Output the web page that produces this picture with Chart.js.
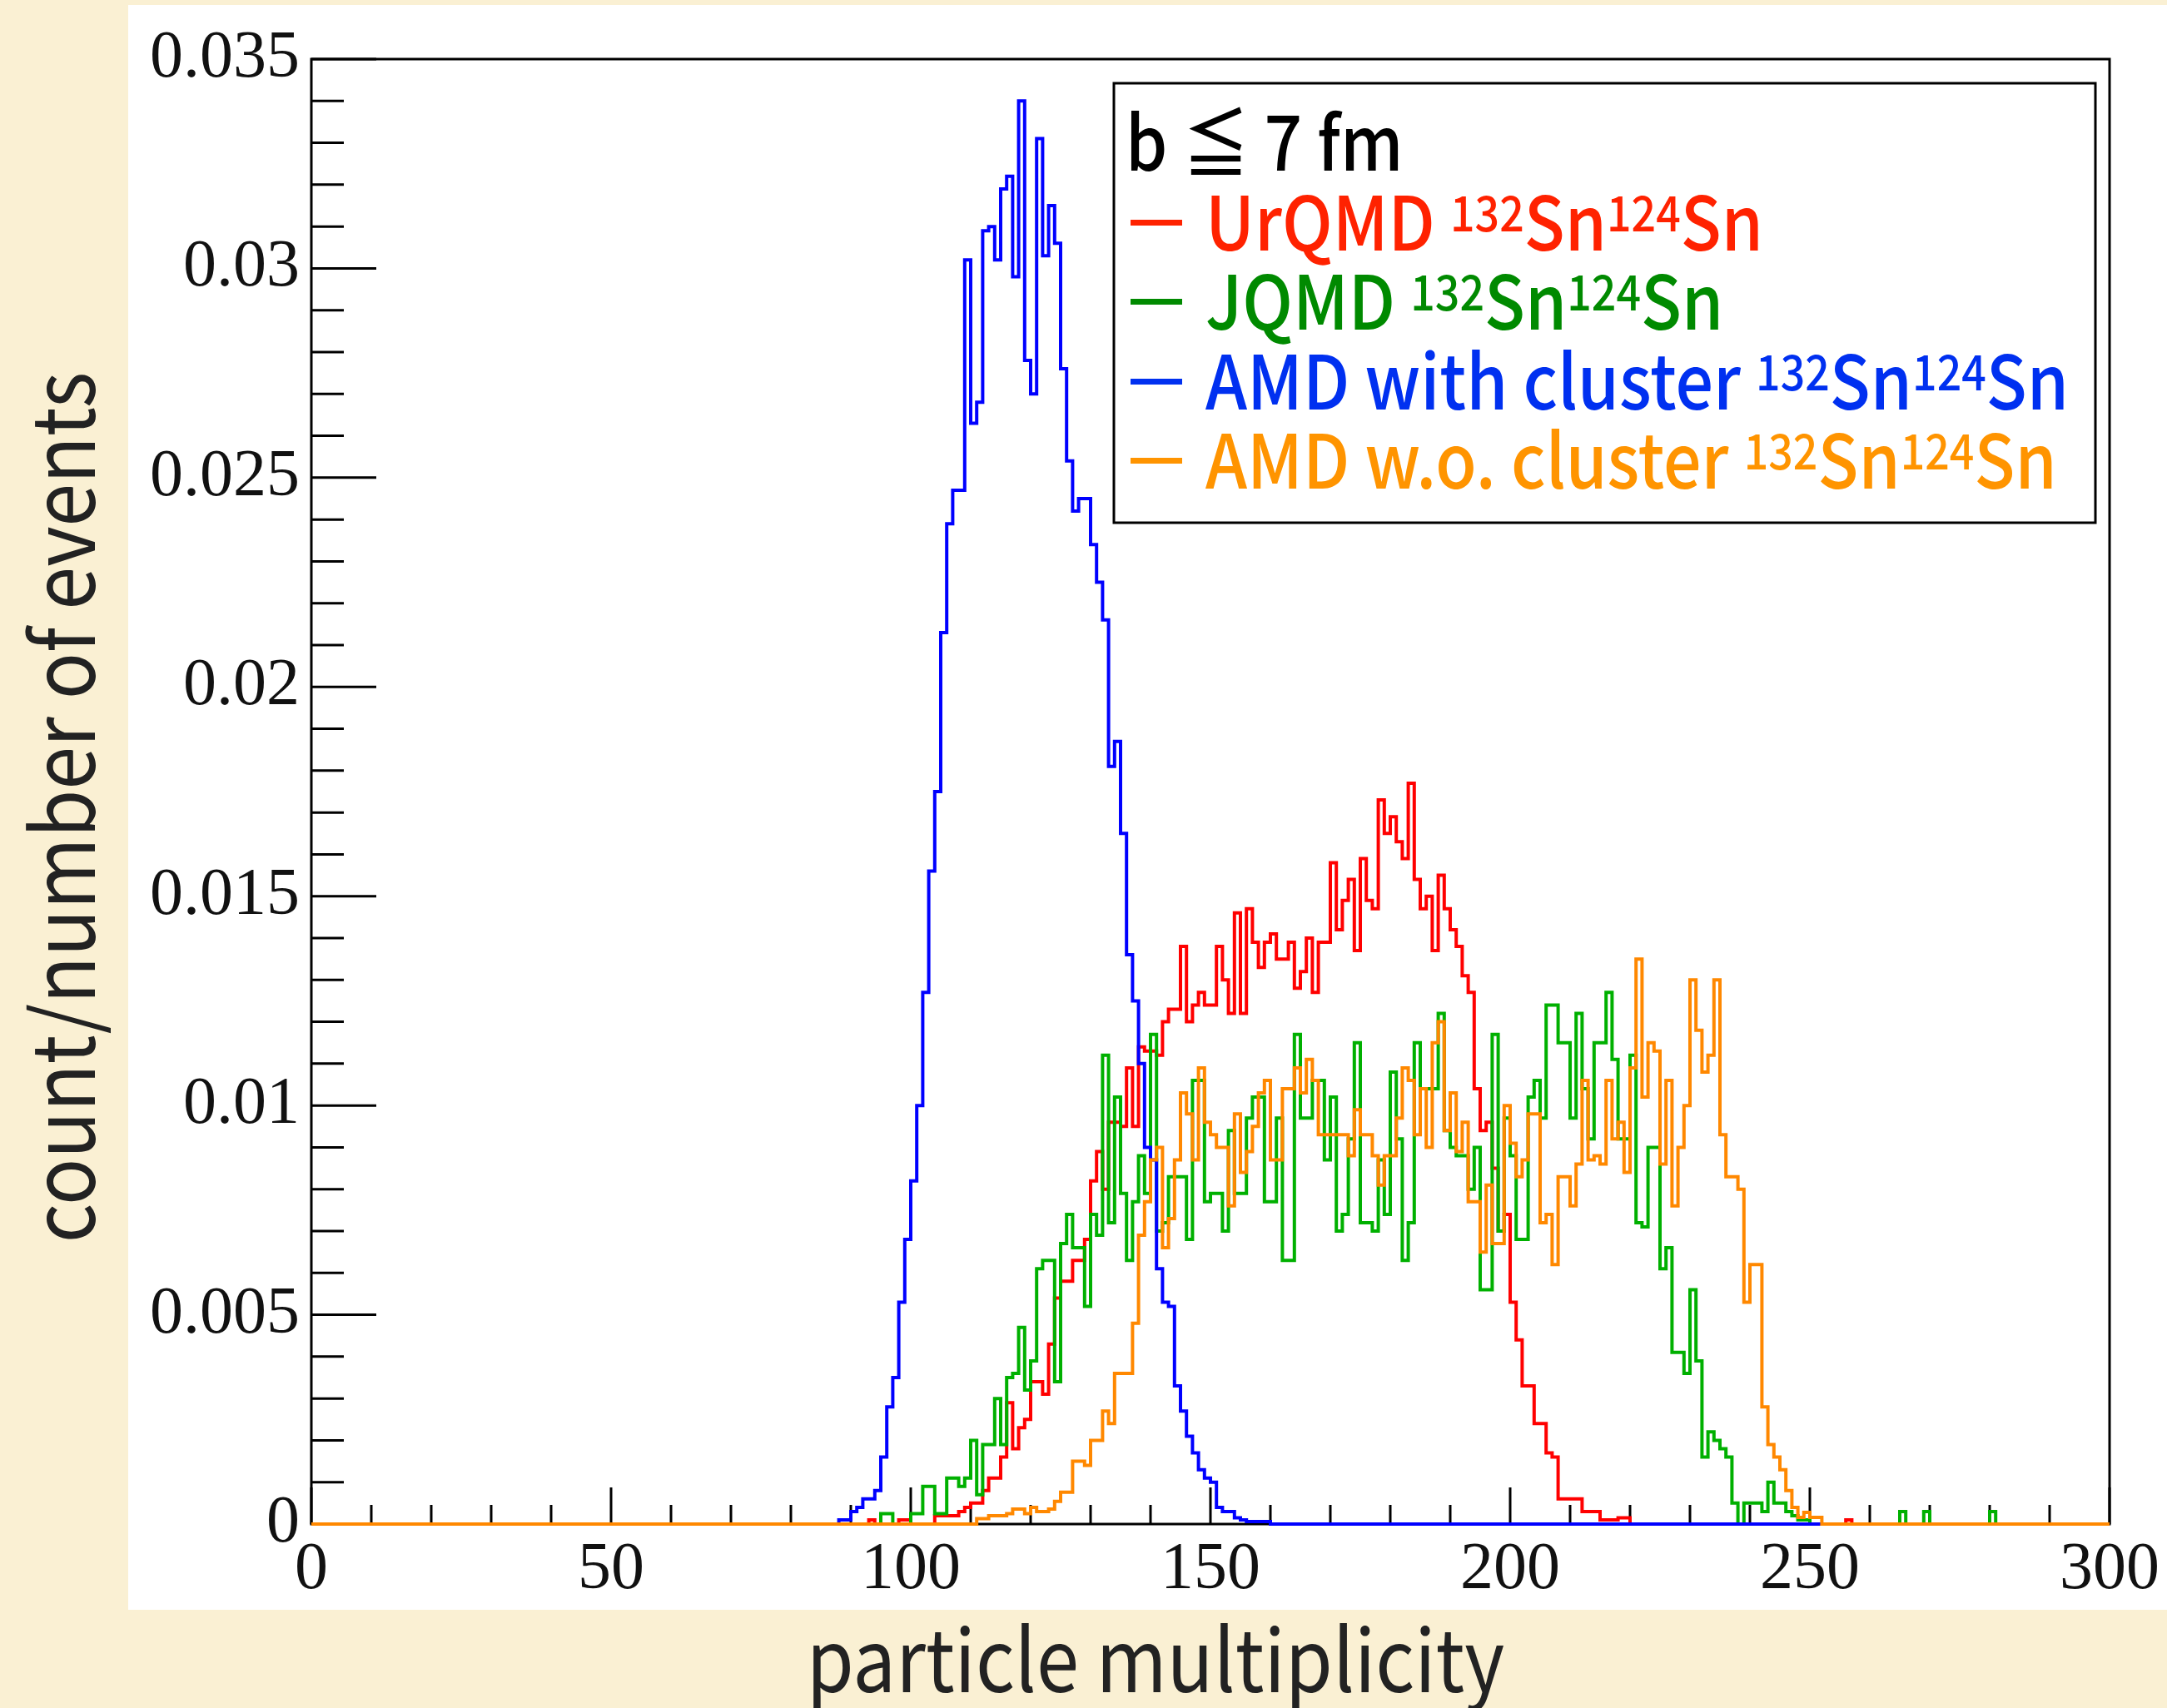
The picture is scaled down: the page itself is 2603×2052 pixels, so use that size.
<!DOCTYPE html>
<html>
<head>
<meta charset="utf-8">
<title>particle multiplicity</title>
<script src="https://cdn.jsdelivr.net/npm/chart.js@4.4.1/dist/chart.umd.min.js"></script>
<style>
  html, body { margin: 0; padding: 0; }
  body { width: 2603px; height: 2052px; background: #faf0d3; position: relative; overflow: hidden; }
  #panel { position: absolute; left: 154px; top: 6px; width: 2449px; height: 1928px; background: #fff; }
  #wrap { position: absolute; left: 0; top: 0; width: 2603px; height: 2052px; }
</style>
</head>
<body>
<div id="panel"></div>
<div id="wrap"><canvas id="chart" width="2603" height="2052"></canvas></div>
<script>
// histogram contents, one value per unit bin, first bin given by *Start
const urqmdStart = 93;
const urqmd = [
  0.0001, 0, 0, 0, 0, 0.0001, 0.0001, 0, 0, 0, 0, 0.0002, 0.0002, 0.0002, 0.0002, 0.0003, 0.0004,
  0.0005, 0.0005, 0.0008, 0.0011, 0.0011, 0.0016, 0.0029, 0.0018, 0.0023, 0.0025, 0.0034, 0.0034,
  0.0031, 0.0043, 0.0054, 0.0058, 0.0058, 0.0063, 0.0063, 0.0068, 0.0082, 0.0089, 0.0080, 0.0096,
  0.0096, 0.0095, 0.0109, 0.0095, 0.0114, 0.0113, 0.0113, 0.0112, 0.0120, 0.0123, 0.0123, 0.0138,
  0.0120, 0.0124, 0.0127, 0.0124, 0.0124, 0.0138, 0.0130, 0.0122, 0.0146, 0.0122, 0.0147, 0.0139,
  0.0133, 0.0139, 0.0141, 0.0135, 0.0135, 0.0139, 0.0128, 0.0132, 0.0140, 0.0127, 0.0139, 0.0139,
  0.0158, 0.0142, 0.0149, 0.0154, 0.0137, 0.0159, 0.0149, 0.0147, 0.0173, 0.0165, 0.0169, 0.0163,
  0.0159, 0.0177, 0.0154, 0.0147, 0.0150, 0.0137, 0.0155, 0.0147, 0.0142, 0.0138, 0.0131, 0.0127,
  0.0104, 0.0094, 0.0096, 0.0085, 0.0070, 0.0074, 0.0053, 0.0044, 0.0033, 0.0033, 0.0024, 0.0024,
  0.0017, 0.0016, 0.0006, 0.0006, 0.0006, 0.0006, 0.0003, 0.0003, 0.0003, 0.0001, 0.0001, 0.0001,
  0.00015, 0.00015,
  0, 0, 0, 0, 0, 0, 0, 0, 0, 0, 0, 0, 0, 0, 0, 0, 0, 0, 0, 0, 0, 0, 0, 0, 0, 0, 0, 0, 0, 0, 0, 0,
  0, 0, 0, 0, 0.0001
];

const jqmdStart = 95;
const jqmd = [
  0.00025, 0.00025, 0, 0, 0, 0.00025, 0.00025, 0.0009, 0.0009, 0.00025, 0.00025, 0.0011, 0.0011,
  0.0009, 0.0011, 0.0020, 0.0007, 0.0019, 0.0019, 0.0030, 0.0019, 0.0035, 0.0036, 0.0047, 0.0032,
  0.0039, 0.0061, 0.0063, 0.0063, 0.0034, 0.0067, 0.0074, 0.0066, 0.0066, 0.0052, 0.0074, 0.0069,
  0.0112, 0.0072, 0.0102, 0.0079, 0.0063, 0.0077, 0.0088, 0.0079, 0.0117, 0.0070, 0.0072, 0.0083,
  0.0083, 0.0083, 0.0068, 0.0106, 0.0106, 0.0077, 0.0079, 0.0079, 0.0070, 0.0094, 0.0079, 0.0079,
  0.0097, 0.0102, 0.0102, 0.0077, 0.0077, 0.0097, 0.0063, 0.0063, 0.0117, 0.0097, 0.0097, 0.0106,
  0.0106, 0.0087, 0.0102, 0.0070, 0.0074, 0.0092, 0.0115, 0.0072, 0.0072, 0.0070, 0.0087, 0.0074,
  0.0108, 0.0092, 0.0063, 0.0072, 0.0115, 0.0104, 0.0104, 0.0104, 0.0122, 0.0094, 0.0090, 0.0088,
  0.0088, 0.0080, 0.0090, 0.0056, 0.0056, 0.0117, 0.0070, 0.0097, 0.0088, 0.0068, 0.0068, 0.0102,
  0.0106, 0.0097, 0.0124, 0.0124, 0.0115, 0.0115, 0.0097, 0.0122, 0.0104, 0.0092, 0.0115, 0.0115,
  0.0127, 0.0111, 0.0092, 0.0092, 0.0112, 0.0072, 0.0071, 0.0090, 0.0090, 0.0061, 0.0066, 0.0041,
  0.0041, 0.0036, 0.0056, 0.0039, 0.0016, 0.0022, 0.0020, 0.0018, 0.0016, 0.0005, 0, 0.0005,
  0.0005, 0.0005, 0.0003, 0.0010, 0.0005, 0.0005, 0.0003, 0.0002, 0.0001, 0.0001,
  0, 0, 0, 0, 0, 0, 0, 0, 0, 0, 0, 0, 0, 0, 0, 0.0003, 0, 0, 0, 0.0003,
  0, 0, 0, 0, 0, 0, 0, 0, 0, 0, 0.0003
];

const amdClusterStart = 88;
const amdCluster = [
  0.0001, 0.0001, 0.0003, 0.0004, 0.0006, 0.0006, 0.0008, 0.0016, 0.0028, 0.0035, 0.0053, 0.0068,
  0.0082, 0.0100, 0.0127, 0.0156, 0.0175, 0.0213, 0.0239, 0.0247, 0.0247, 0.0302, 0.0263, 0.0268,
  0.0309, 0.0310, 0.0302, 0.0319, 0.0322, 0.0298, 0.0340, 0.0278, 0.0270, 0.0331, 0.0303, 0.0315,
  0.0306, 0.0276, 0.0254, 0.0242, 0.0245, 0.0245, 0.0234, 0.0225, 0.0216, 0.0181, 0.0187, 0.0165,
  0.0136, 0.0125, 0.0110, 0.0090, 0.0087, 0.0061, 0.0053, 0.0052, 0.0033, 0.0027, 0.0021, 0.0017,
  0.0013, 0.0011, 0.0010, 0.0004, 0.0003, 0.0003, 0.00015, 0.0001, 0.00006, 0.00006, 0.00006, 0.00006
];

const amdNoClusterStart = 111;
const amdNoCluster = [
  0.00013, 0.00013, 0.0002, 0.0002, 0.0002, 0.00025, 0.00036, 0.00036, 0.00025, 0.0004, 0.0003,
  0.0003, 0.00036, 0.00054, 0.00076, 0.00076, 0.0015, 0.0015, 0.0014, 0.0020, 0.0020, 0.0027,
  0.0024, 0.0036, 0.0036, 0.0036, 0.0048, 0.0069, 0.0077, 0.0087, 0.0090, 0.0066, 0.0073, 0.0087,
  0.0103, 0.0098, 0.0087, 0.0109, 0.0096, 0.0093, 0.0090, 0.0090, 0.0076, 0.0098, 0.0084, 0.0089,
  0.0095, 0.0103, 0.0106, 0.0087, 0.0087, 0.0104, 0.0104, 0.0109, 0.0103, 0.0111, 0.0106, 0.0093,
  0.0093, 0.0093, 0.0093, 0.0093, 0.0088, 0.0099, 0.0093, 0.0093, 0.0088, 0.0081, 0.0088, 0.0088,
  0.0097, 0.0109, 0.0106, 0.0093, 0.0104, 0.0090, 0.0115, 0.0120, 0.0094, 0.0103, 0.0089, 0.0096,
  0.0077, 0.0077, 0.0065, 0.0081, 0.0067, 0.0067, 0.0100, 0.0091, 0.0083, 0.0087, 0.0098, 0.0098,
  0.0072, 0.0074, 0.0062, 0.0083, 0.0083, 0.0076, 0.0086, 0.0106, 0.0087, 0.0088, 0.0086, 0.0106,
  0.0092, 0.0096, 0.0084, 0.0109, 0.0135, 0.0102, 0.0115, 0.0113, 0.0086, 0.0106, 0.0076, 0.0090,
  0.0100, 0.0130, 0.0118, 0.0108, 0.0112, 0.0130, 0.0093, 0.0083, 0.0083, 0.0080, 0.0053, 0.0062,
  0.0062, 0.0028, 0.0019, 0.0016, 0.0013, 0.0008, 0.0004, 0.00016, 0.00028, 0.00016, 0.00016
];

const xRange = [0, 300];
const yRange = [0, 0.035];
const xTickLabels = ['0', '50', '100', '150', '200', '250', '300'];
const yTickLabels = ['0', '0.005', '0.01', '0.015', '0.02', '0.025', '0.03', '0.035'];

const legendTitle = 'b \u2266 7 fm';
const legendNames = ['UrQMD', 'JQMD', 'AMD with cluster', 'AMD w.o. cluster'];
const lineColors = ['#ff0000', '#00b000', '#0000ff', '#ff8800'];
const legendColors = ['#ff2200', '#008a00', '#0030f0', '#ff9400'];

// bin contents -> step points, flat at zero over the rest of the axis
function toSteps(start, values) {
  const pts = [{ x: xRange[0], y: 0 }];
  values.forEach((v, i) => pts.push({ x: start + i, y: v }));
  pts.push({ x: start + values.length, y: 0 });
  pts.push({ x: xRange[1], y: 0 });
  return pts;
}

const series = [
  toSteps(urqmdStart, urqmd),
  toSteps(jqmdStart, jqmd),
  toSteps(amdClusterStart, amdCluster),
  toSteps(amdNoClusterStart, amdNoCluster)
];

const SANS = '"Noto Sans CJK JP", "Noto Sans", sans-serif';
const SERIF = '"Liberation Serif", "DejaVu Serif", serif';

// frame and inward ticks like a ROOT canvas
const rootFrame = {
  id: 'rootFrame',
  beforeDatasetsDraw(chart) {
    const { ctx, chartArea: a, scales: { x, y } } = chart;
    ctx.save();
    ctx.strokeStyle = '#000';
    ctx.lineWidth = 3;
    ctx.strokeRect(a.left, a.top, a.right - a.left, a.bottom - a.top);
    ctx.beginPath();
    for (let i = 0; i <= 35; i++) {
      const py = y.getPixelForValue(i * 0.001);
      const len = i % 5 === 0 ? 78 : 39;
      ctx.moveTo(a.left, py);
      ctx.lineTo(a.left + len, py);
    }
    for (let u = 0; u <= 300; u += 10) {
      const px = x.getPixelForValue(u);
      const len = u % 50 === 0 ? 44 : 23;
      ctx.moveTo(px, a.bottom);
      ctx.lineTo(px, a.bottom - len);
    }
    ctx.stroke();
    ctx.restore();
  }
};

function drawSupText(ctx, x, base, parts, size, sx) {
  // parts: [text, isSup], squeezed horizontally by sx
  ctx.save();
  ctx.translate(x, 0);
  ctx.scale(sx, 1);
  let cx = 0;
  parts.forEach(([t, sup]) => {
    ctx.font = '500 ' + (sup ? Math.round(size * 0.64) : size) + 'px ' + SANS;
    ctx.fillText(t, cx, sup ? base - 23 : base);
    cx += ctx.measureText(t).width;
  });
  ctx.restore();
}

const annotations = {
  id: 'annotations',
  afterDraw(chart) {
    const ctx = chart.ctx;
    ctx.save();
    ctx.textBaseline = 'alphabetic';

    // axis titles
    ctx.fillStyle = '#222';
    ctx.font = '400 104px ' + SANS;
    ctx.textAlign = 'center';
    ctx.save();
    ctx.translate(1388, 2033);
    ctx.scale(0.885, 1);
    ctx.fillText('particle multiplicity', 0, 0);
    ctx.restore();
    ctx.save();
    ctx.translate(114, 970);
    ctx.rotate(-Math.PI / 2);
    ctx.scale(0.895, 1);
    ctx.fillText('count/number of events', 0, 0);
    ctx.restore();

    // legend box
    ctx.textAlign = 'left';
    ctx.fillStyle = '#fff';
    ctx.fillRect(1338, 100, 1179, 528);
    ctx.strokeStyle = '#000';
    ctx.lineWidth = 3;
    ctx.strokeRect(1338, 100, 1179, 528);
    ctx.fillStyle = '#000';
    drawSupText(ctx, 1352, 205, [[legendTitle, false]], 90, 0.89);
    const bases = [301, 396, 492, 587];
    legendNames.forEach((name, i) => {
      ctx.fillStyle = legendColors[i];
      ctx.fillRect(1358, bases[i] - 37, 62, 7);
      drawSupText(ctx, 1448, bases[i],
        [[name + ' ', false], ['132', true], ['Sn', false], ['124', true], ['Sn', false]], 90, 0.895);
    });
    ctx.restore();
  }
};

function draw() {
  const ctx = document.getElementById('chart').getContext('2d');
  // drawn bottom to top: red, green, blue, orange
  const drawOrder = [4, 3, 2, 1];
  new Chart(ctx, {
    type: 'line',
    data: {
      datasets: series.map((pts, i) => ({
        label: legendNames[i],
        data: pts,
        borderColor: lineColors[i],
        borderWidth: 4,
        stepped: true,
        pointRadius: 0,
        fill: false,
        clip: 6,
        order: drawOrder[i]
      }))
    },
    options: {
      responsive: false,
      animation: false,
      devicePixelRatio: 1,
      layout: { padding: { left: 0, top: 71, right: 69, bottom: 0 } },
      plugins: { legend: { display: false }, tooltip: { enabled: false } },
      scales: {
        x: {
          type: 'linear',
          min: xRange[0],
          max: xRange[1],
          afterFit: (s) => { s.height = 221; },
          grid: { display: false, drawTicks: false },
          border: { display: false },
          ticks: {
            stepSize: 50,
            autoSkip: false,
            maxRotation: 0,
            padding: 8,
            color: '#111',
            font: { family: SERIF, size: 80 },
            callback: (v, i) => xTickLabels[i]
          }
        },
        y: {
          type: 'linear',
          min: yRange[0],
          max: yRange[1],
          afterFit: (s) => { s.width = 374; },
          grid: { display: false, drawTicks: false },
          border: { display: false },
          ticks: {
            stepSize: 0.005,
            padding: 14,
            color: '#111',
            font: { family: SERIF, size: 80 },
            callback: (v, i) => yTickLabels[i]
          }
        }
      }
    },
    plugins: [rootFrame, annotations]
  });
}

Promise.all([
  document.fonts.load('80px "Liberation Serif"'),
  document.fonts.load('500 90px "Noto Sans CJK JP"'),
  document.fonts.load('400 104px "Noto Sans CJK JP"')
]).catch(() => {}).then(draw);
</script>
</body>
</html>
